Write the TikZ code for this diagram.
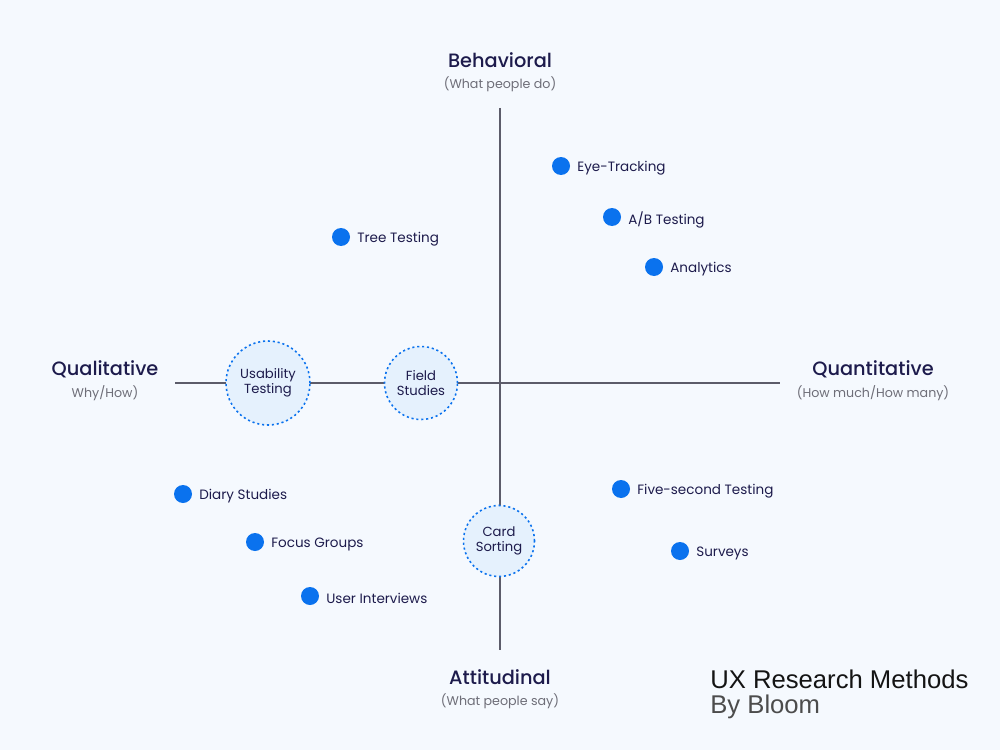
\documentclass[tikz,border=0pt]{standalone}
\usepackage{fontspec}
\setmainfont{Poppins}[BoldFont=Poppins Medium]
\newfontfamily\titlefont{Liberation Sans}
\usetikzlibrary{backgrounds, positioning}
\definecolor{bgblue}{HTML}{F5F9FE}
\definecolor{navy}{HTML}{1D1B4C}
\definecolor{greytext}{HTML}{6E6E78}
\definecolor{axisgrey}{HTML}{5C5C6A}
\definecolor{dotblue}{HTML}{0A72EE}
\definecolor{ringfill}{HTML}{E5F1FD}
\tikzset{%
  % Specifications for style of nodes:
            method/.style = {circle, fill=dotblue, minimum size=0.36cm, inner sep=0pt},
            methodlabel/.style = {font=\fontsize{7.7}{10}\selectfont, text=navy, inner sep=0pt, yshift=-0.05cm},
            ring/.style = {circle, draw=dotblue, fill=ringfill, dash pattern=on 1.2pt off 1.6pt,
                            line width=0.9pt, align=center, inner sep=0pt,
                            font=\fontsize{7.5}{8.6}\selectfont, text=navy},
            axistitle/.style = {font=\fontsize{11}{13}\selectfont\bfseries, text=navy, inner sep=0pt},
            axissub/.style = {font=\fontsize{7.2}{9}\selectfont, text=greytext, inner sep=0pt}
}
\begin{document}
\begin{tikzpicture}[x=0.02cm, y=-0.02cm]
                \fill[bgblue] (0,0) rectangle (1000,750);
                \useasboundingbox (0,0) rectangle (1000,750);

                % axes
                \coordinate (west) at (175,383);
                \coordinate (east) at (780,383);
                \coordinate (north) at (500,108);
                \coordinate (south) at (500,650);
                \draw[axisgrey, line width=0.6pt] (west) -- (east);
                \draw[axisgrey, line width=0.6pt] (north) -- (south);

                % axis titles
                \node[axistitle] (behav) at (500,60) {Behavioral};
                \node[axissub] (behavsub) at (500,84) {(What people do)};
                \node[axistitle] (attit) at (500,677) {Attitudinal};
                \node[axissub] (attitsub) at (500,701) {(What people say)};
                \node[axistitle] (qual) at (105,369) {Qualitative};
                \node[axissub] (qualsub) at (105,393) {Why/How)};
                \node[axistitle] (quant) at (873,369) {Quantitative};
                \node[axissub] (quantsub) at (873,393) {(How much/How many)};

                % methods on the axes
                \node[ring, minimum size=1.68cm] (usab) at (268,383) {Usability\\Testing};
                \node[ring, minimum size=1.46cm] (field) at (421,383) {Field\\Studies};
                \node[ring, minimum size=1.42cm] (card) at (499,541) {Card\\Sorting};

                % methods in the quadrants
                \node[method] (eye) at (561,166) {};
                \node[methodlabel, right=0.32cm of eye.center, anchor=west] {Eye-Tracking};
                \node[method] (ab) at (612,217) {};
                \node[methodlabel, right=0.32cm of ab.center, anchor=west] {A/B Testing};
                \node[method] (analytics) at (654,267) {};
                \node[methodlabel, right=0.32cm of analytics.center, anchor=west] {Analytics};
                \node[method] (tree) at (341,237) {};
                \node[methodlabel, right=0.32cm of tree.center, anchor=west] {Tree Testing};
                \node[method] (diary) at (183,494) {};
                \node[methodlabel, right=0.32cm of diary.center, anchor=west] {Diary Studies};
                \node[method] (focus) at (255,542) {};
                \node[methodlabel, right=0.32cm of focus.center, anchor=west] {Focus Groups};
                \node[method] (interv) at (310,596) {};
                \node[methodlabel, right=0.32cm of interv.center, anchor=west] {User Interviews};
                \node[method] (fivesec) at (621,489) {};
                \node[methodlabel, right=0.32cm of fivesec.center, anchor=west] {Five-second Testing};
                \node[method] (surveys) at (680,551) {};
                \node[methodlabel, right=0.32cm of surveys.center, anchor=west] {Surveys};

                % title
                \node[anchor=west, inner sep=0pt, font=\titlefont\fontsize{14.6}{17}\selectfont, text=black!92] (title) at (710,679) {UX Research Methods};
                \node[anchor=west, inner sep=0pt, font=\titlefont\fontsize{14.6}{17}\selectfont, text=black!70] (byline) at (710,707) {By Bloom};

            \end{tikzpicture}
\end{document}
